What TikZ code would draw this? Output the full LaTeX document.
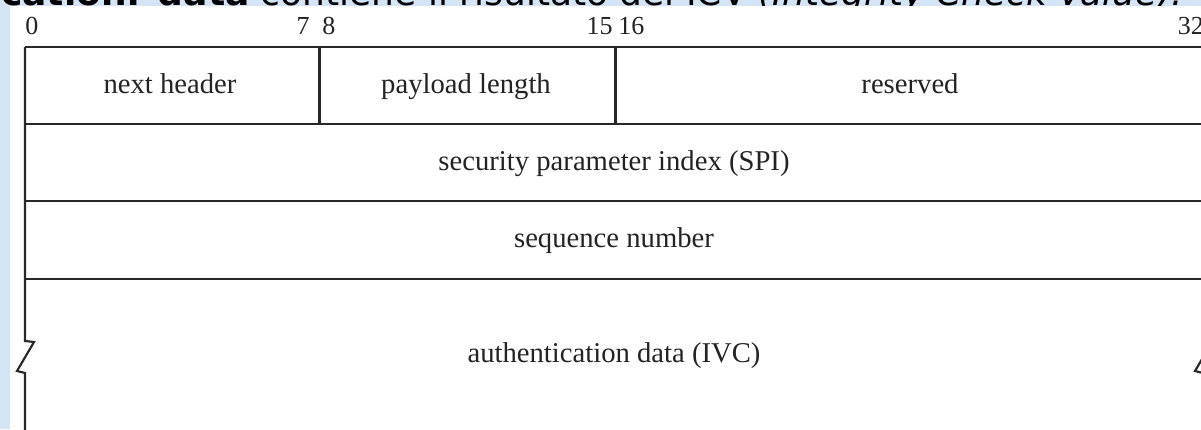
\documentclass[tikz,border=0pt]{standalone}
\usepackage{fontspec}
\setmainfont{Liberation Serif}
\newfontfamily\slidefont{DejaVu Sans}
\definecolor{slideblue}{RGB}{212,228,247}
\definecolor{rulegray}{RGB}{40,40,40}
\definecolor{labelgray}{RGB}{35,35,35}
\begin{document}
\begin{tikzpicture}[x=0.75pt,y=-0.75pt,
  frame/.style={draw=rulegray,line width=1.6pt,line join=miter},
  fieldlabel/.style={inner sep=0pt,anchor=base,text=labelgray,font=\fontsize{21.5}{25}\selectfont},
  bitlabel/.style={inner sep=0pt,anchor=base,text=labelgray,font=\fontsize{19.5}{22}\selectfont},
  slidetext/.style={inner sep=0pt,anchor=base west,text=black,font=\slidefont\fontsize{27}{32}\selectfont}]
\useasboundingbox (0,0) rectangle (1201,429);
\clip (0,0) rectangle (1201,429);

% slide background and the caption line running above the figure
\fill[slideblue] (0,0) rectangle (1201,429);
\node[slidetext] (caption) at (1,5.5)
  {\textbf{cation: data} contiene il risultato del ICV \textit{(Integrity Check Value).}};
\fill[white] (10,6) rectangle (1201,429);

% bit positions along the top
\node[bitlabel,anchor=base west] (b0) at (25,34) {0};
\node[bitlabel,anchor=base east] (b7) at (310,34) {7};
\node[bitlabel,anchor=base west] (b8) at (322,34) {8};
\node[bitlabel,anchor=base east] (b15) at (613,34) {15};
\node[bitlabel,anchor=base west] (b16) at (618,34) {16};
\node[bitlabel,anchor=base east] (b32) at (1204,34) {32};

% header rows
\draw[frame] (25,47) -- (1203,47);
\draw[frame] (25,124) -- (1203,124);
\draw[frame] (25,201) -- (1203,201);
\draw[frame] (25,279) -- (1203,279);
\draw[frame] (319.5,47) -- (319.5,124);
\draw[frame] (615.5,47) -- (615.5,124);

% side borders with the break marks of the variable-length field
\draw[frame] (25,47) -- (25,341) -- (34,342) -- (17,371) -- (25,373) -- (25,440);
\draw[frame] (1203,47) -- (1203,341) -- (1212,342) -- (1195,371) -- (1203,373) -- (1203,440);

% field names
\node[fieldlabel] (nh) at (170,93) {next header};
\node[fieldlabel] (pl) at (466,93) {payload length};
\node[fieldlabel] (rs) at (910,93) {reserved};
\node[fieldlabel] (spi) at (614,170) {security parameter index (SPI)};
\node[fieldlabel] (seq) at (614,247.5) {sequence number};
\node[fieldlabel] (auth) at (614,362) {authentication data (IVC)};
\end{tikzpicture}
\end{document}
